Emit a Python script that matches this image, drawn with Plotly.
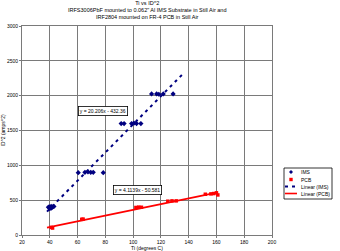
import numpy as np
import plotly.graph_objects as go

ims_x = [39, 40, 41, 42, 43, 40, 41, 60.5, 65.3, 67.5, 69.5, 71.3, 78.5,
         91.4, 93.5, 98.9, 100.6, 102.5, 105.6, 113.3, 116.9, 118.5, 121.7, 128.8]
ims_y = [400, 405, 410, 400, 410, 380, 385, 895, 900, 905, 900, 900, 895,
         1600, 1600, 1600, 1605, 1600, 1600, 2025, 2025, 2020, 2025, 2025]

pcb_x = [41, 42, 63, 64, 102, 104, 106, 125, 128, 131, 152, 156, 158, 160, 161]
pcb_y = [110, 100, 225, 228, 395, 400, 398, 485, 490, 490, 585, 590, 595, 605, 575]

ims_slope, ims_icpt = 20.206, -432.36
pcb_slope, pcb_icpt = 4.1139, -50.581
ims_fit_range = [38, 136]
pcb_fit_range = [38, 161]

series_names = ["IMS", "PCB", "Linear (IMS)", "Linear (PCB)"]
title_lines = ["Ti vs ID^2",
               "IRFS3006PbF mounted to 0.062\" Al IMS Substrate in Still Air and",
               "IRF2804 mounted on FR-4 PCB in Still Air"]
x_ticks = list(range(20, 201, 20))
y_ticks = list(range(0, 3001, 500))

navy = "#000080"
red = "#FF0000"
grid = "#7a7a7a"
font = "Liberation Sans, Arial, sans-serif"
ims_dash = "3px,4px"

fig = go.Figure()
fig.add_trace(go.Scatter(x=ims_x, y=ims_y, mode="markers", name=series_names[0],
                         marker=dict(symbol="diamond", size=4, color=navy)))
fig.add_trace(go.Scatter(x=pcb_x, y=pcb_y, mode="markers", name=series_names[1],
                         marker=dict(symbol="square", size=3.5, color=red)))
fx = np.array(ims_fit_range, dtype=float)
fig.add_trace(go.Scatter(x=fx, y=ims_slope * fx + ims_icpt, mode="lines", name=series_names[2],
                         line=dict(color=navy, width=2, dash=ims_dash)))
px = np.array(pcb_fit_range, dtype=float)
fig.add_trace(go.Scatter(x=px, y=pcb_slope * px + pcb_icpt, mode="lines", name=series_names[3],
                         line=dict(color=red, width=1.6)))

fig.add_annotation(x=78, y=1780, xref="x", yref="y",
                   text="y = %.3fx - %.2f" % (ims_slope, -ims_icpt),
                   showarrow=False, font=dict(size=5, color="black", family=font),
                   bgcolor="white", bordercolor="black", borderwidth=0.8, borderpad=1)
fig.add_annotation(x=103, y=650, xref="x", yref="y",
                   text="y = %.4fx - %.3f" % (pcb_slope, -pcb_icpt),
                   showarrow=False, font=dict(size=5, color="black", family=font),
                   bgcolor="white", bordercolor="black", borderwidth=0.8, borderpad=1)

fig.add_annotation(x=0.5, y=1.0, xref="paper", yref="paper", yanchor="bottom", yshift=4,
                   text="<br>".join(title_lines), showarrow=False,
                   font=dict(size=5.5, color="black", family=font))

# compact custom legend (plotly's built-in legend has a large minimum row height)
L, W, T, H = 22, 250, 26, 209
def pxx(p):
    return (p - L) / W
def pxy(p):
    return (T + H - p) / H

fig.add_shape(type="rect", xref="paper", yref="paper",
              x0=pxx(284), x1=pxx(332), y0=pxy(199), y1=pxy(168),
              line=dict(color="black", width=0.8), fillcolor="white")
rows = [172, 179.5, 186.5, 193.5]
for name, ry in zip(series_names, rows):
    fig.add_annotation(x=pxx(299), y=pxy(ry), xref="paper", yref="paper",
                       xanchor="left", yanchor="middle", text=name, showarrow=False,
                       font=dict(size=5, color="black", family=font))
fig.add_shape(type="path", xref="paper", yref="paper", xsizemode="pixel", ysizemode="pixel",
              xanchor=pxx(291), yanchor=pxy(rows[0]),
              path="M 0 2 L 2 0 L 0 -2 L -2 0 Z", fillcolor=navy, line=dict(width=0))
fig.add_shape(type="rect", xref="paper", yref="paper", xsizemode="pixel", ysizemode="pixel",
              xanchor=pxx(291), yanchor=pxy(rows[1]), x0=-1.7, x1=1.7, y0=-1.7, y1=1.7,
              fillcolor=red, line=dict(width=0))
fig.add_shape(type="line", xref="paper", yref="paper",
              x0=pxx(285), x1=pxx(297), y0=pxy(rows[2]), y1=pxy(rows[2]),
              line=dict(color=navy, width=2, dash=ims_dash))
fig.add_shape(type="line", xref="paper", yref="paper",
              x0=pxx(285), x1=pxx(297), y0=pxy(rows[3]), y1=pxy(rows[3]),
              line=dict(color=red, width=1.6))

fig.update_layout(
    width=340, height=251,
    margin=dict(l=22, r=68, t=26, b=16),
    paper_bgcolor="white", plot_bgcolor="white",
    font=dict(family=font, size=5, color="black"),
    showlegend=False,
    xaxis=dict(range=[20, 200], tickvals=x_ticks, showgrid=True, gridcolor=grid,
               gridwidth=0.8, showline=True, linecolor=grid, mirror=True,
               ticks="outside", ticklen=2, tickcolor=grid, zeroline=False,
               tickfont=dict(size=5), automargin=False,
               title=dict(text="Ti (degrees C)", font=dict(size=5), standoff=1)),
    yaxis=dict(range=[0, 3000], tickvals=y_ticks, showgrid=True, gridcolor=grid,
               gridwidth=0.8, showline=True, linecolor=grid, mirror=True,
               ticks="outside", ticklen=2, tickcolor=grid, zeroline=False,
               tickfont=dict(size=5), automargin=False,
               title=dict(text="ID^2 (amps^2)", font=dict(size=5), standoff=1)),
)

fig.write_html("out.html")
